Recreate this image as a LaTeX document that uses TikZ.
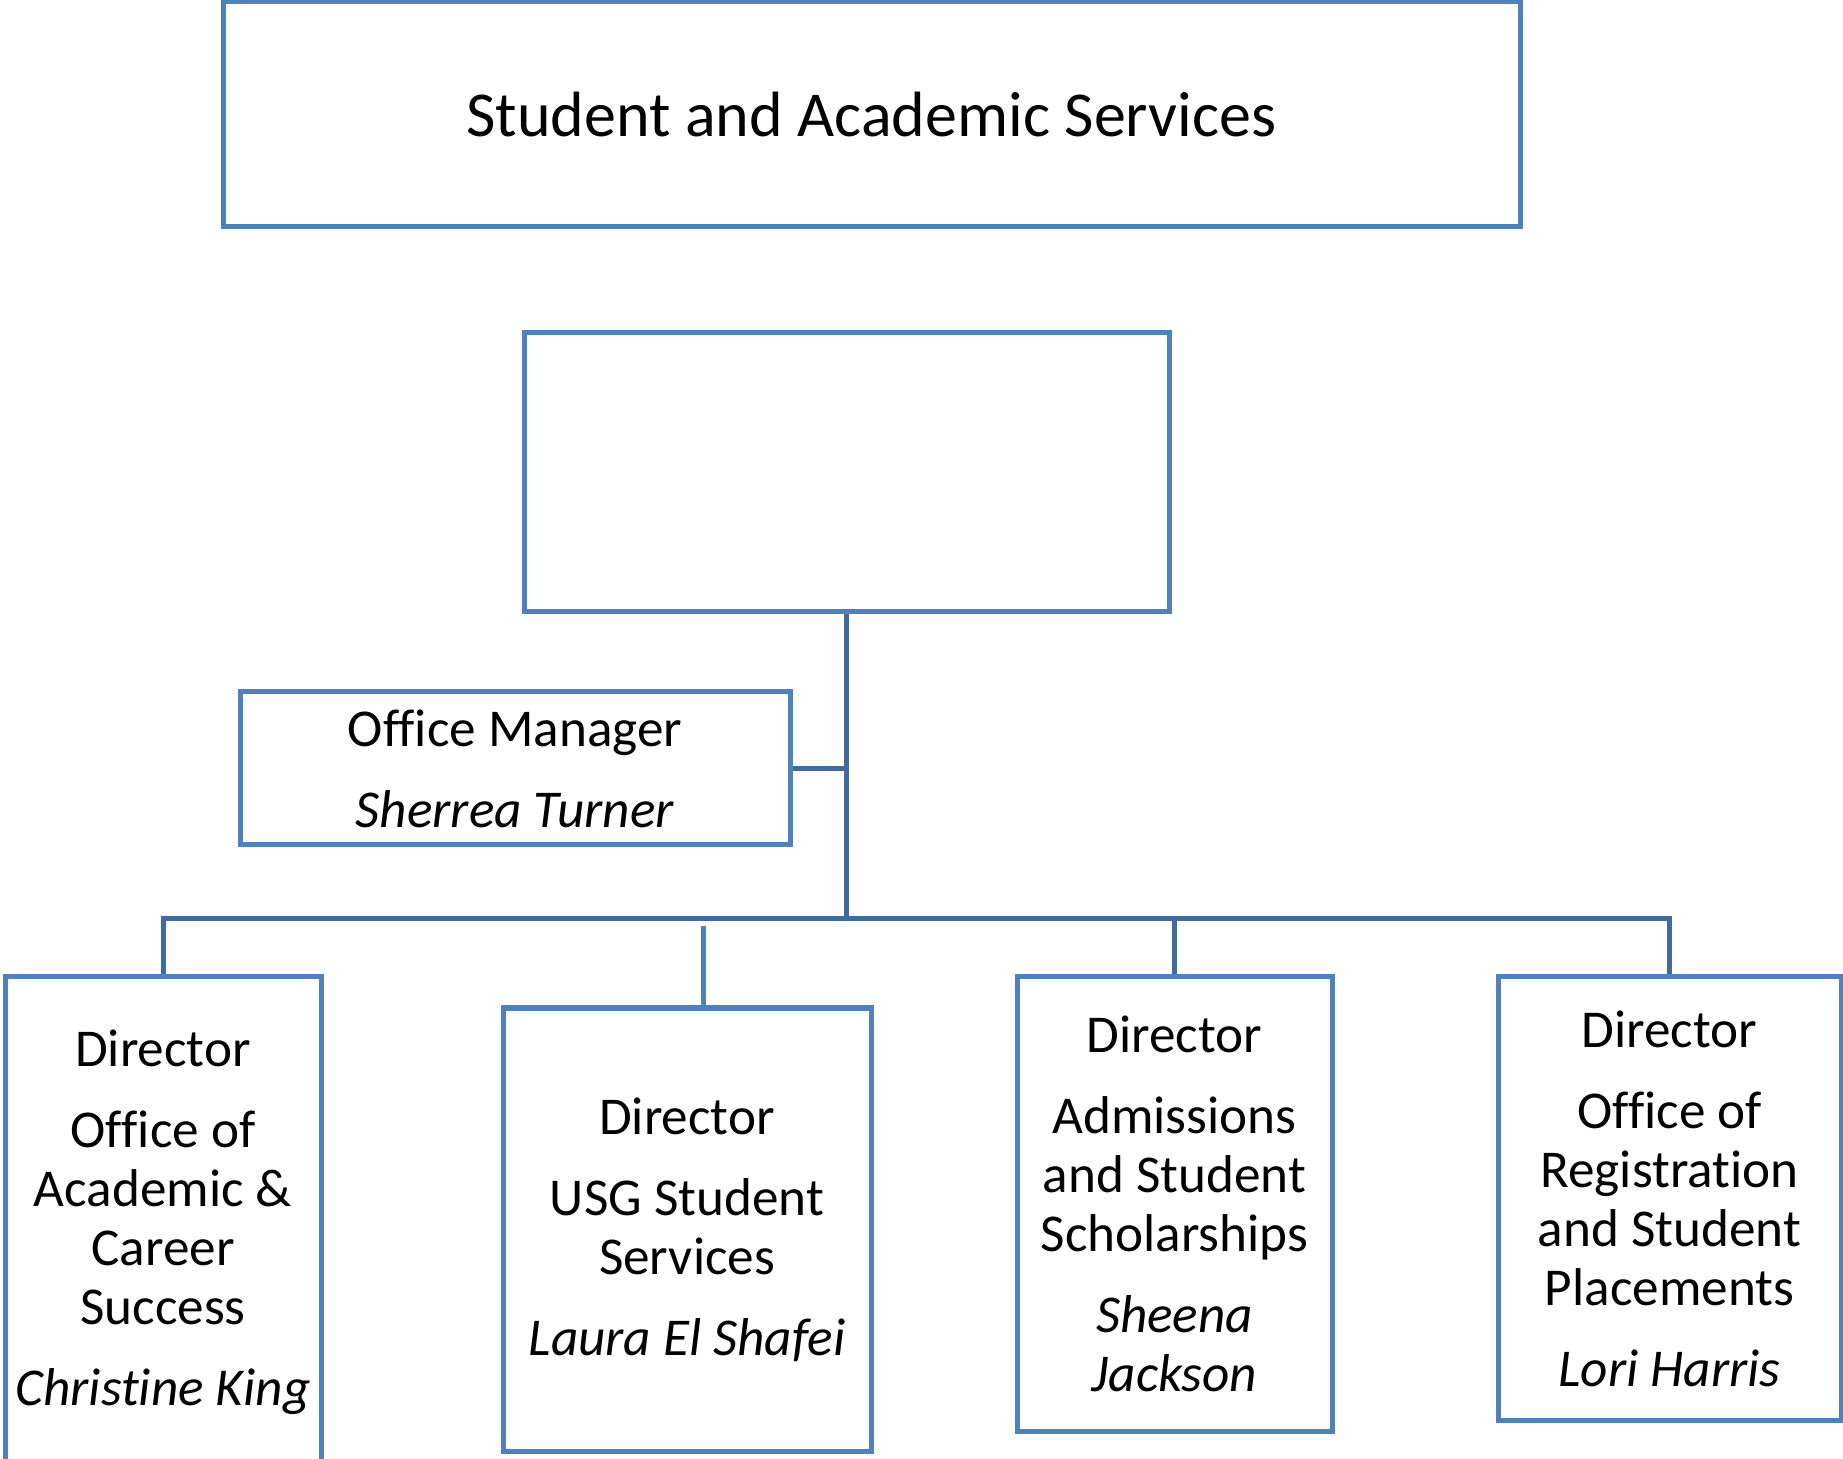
\documentclass[tikz,border=0pt]{standalone}
\usepackage{fontspec}
\setmainfont{Carlito}[Ligatures=NoCommon]
\definecolor{boxblue}{RGB}{79,129,189}
\definecolor{linkblue}{RGB}{65,107,158}

\begin{document}
\begin{tikzpicture}[x=0.5pt,y=-0.5pt,
  unit/.style={draw=boxblue,line width=2.5pt,inner sep=0pt,align=center,font=\fontsize{26.6}{29.5}\selectfont},
  link/.style={draw=linkblue,line width=2.5pt}]
\useasboundingbox (0,0) rectangle (1843,1459);
\node[unit,minimum width=648.5pt,minimum height=112.5pt,font=\fontsize{32}{38}\selectfont] (sas) at (871.5,114.5) {Student and Academic Services};
\node[unit,minimum width=322.5pt,minimum height=139.5pt] (head) at (846.5,472.5) {};
\node[unit,minimum width=275pt,minimum height=76.5pt] (mgr) at (515,768.5) {Office Manager\\[11pt]\textit{Sherrea Turner}};
\node[unit,minimum width=158pt,minimum height=245pt] (acs) at (163,1222) {Director\\[11pt]Office of\\Academic \&\\Career\\Success\\[11pt]\textit{Christine King}};
\node[unit,minimum width=184pt,minimum height=221.5pt] (usg) at (687,1229.5) {Director\\[11pt]USG Student\\Services\\[11pt]\textit{Laura El Shafei}};
\node[unit,minimum width=157.5pt,minimum height=227pt] (adm) at (1174.5,1204) {Director\\[11pt]Admissions\\and Student\\Scholarships\\[11pt]\textit{Sheena}\\\textit{Jackson}};
\node[unit,minimum width=171.5pt,minimum height=221.5pt] (reg) at (1669.5,1198.5) {Director\\[11pt]Office of\\Registration\\and Student\\Placements\\[11pt]\textit{Lori Harris}};
\coordinate (hub) at (head.south |- 0,919);
\coordinate (usgtop) at (703,926);
\draw[link] (head.south) -- (hub);
\draw[link] (mgr.east) -- (mgr.east -| hub);
\draw[link] (acs.north) -- (acs.north |- hub) -- (reg.north |- hub) -- (reg.north);
\foreach \b in {adm} {
  \draw[link] (\b.north) -- (\b.north |- hub);
}
\draw[link,draw=boxblue] (usgtop) -- (usgtop |- usg.north);
\end{tikzpicture}
\end{document}
